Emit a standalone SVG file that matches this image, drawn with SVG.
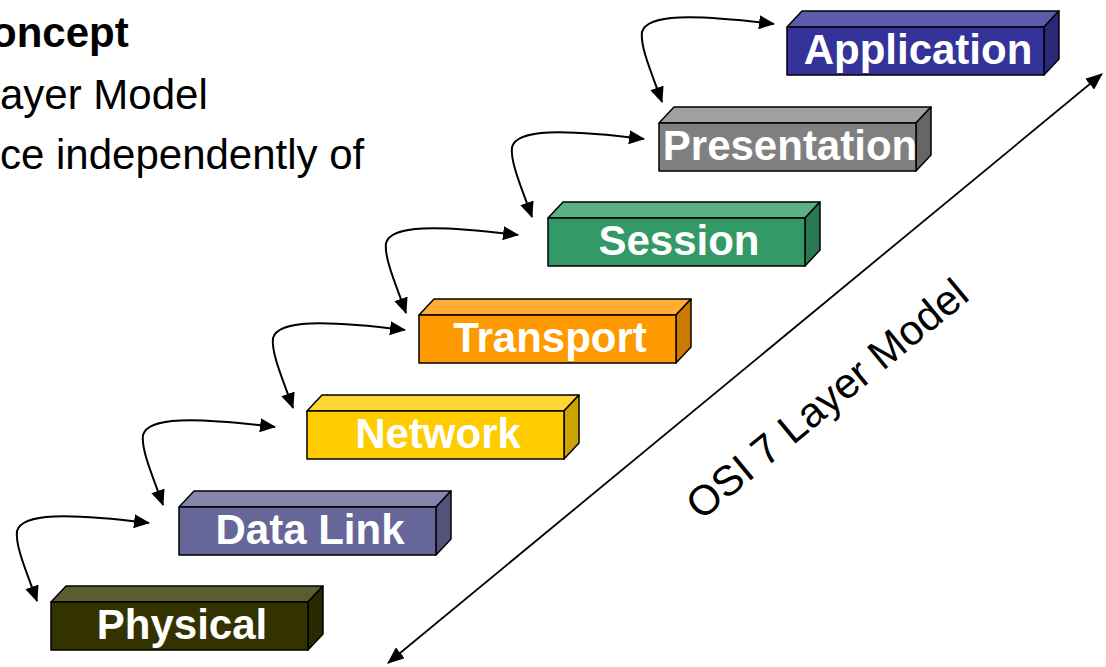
<svg xmlns="http://www.w3.org/2000/svg" width="1106" height="667" viewBox="0 0 1106 667">
  <style>
    .body { font-family: "Liberation Sans", Arial, sans-serif; font-size: 42px; fill: #000; }
    .bold { font-weight: bold; }
    .lbl { font-family: "Liberation Sans", Arial, sans-serif; font-size: 42px; font-weight: bold; fill: #fff; text-anchor: middle; }
    .edge { stroke: #000; stroke-linejoin: round; stroke-width: 1.5; }
    .conn { fill: none; stroke: #000; stroke-width: 2; marker-start: url(#ah); marker-end: url(#ah); }
    .axis { fill: none; stroke: #000; stroke-width: 1.8; marker-start: url(#ah2); marker-end: url(#ah2); }
    .axisText { font-family: "Liberation Sans", Arial, sans-serif; font-size: 42px; fill: #000; text-anchor: middle; }
  </style>
  <defs>
    <marker id="ah" viewBox="0 0 16 14" markerWidth="16" markerHeight="14" refX="15" refY="7" orient="auto-start-reverse" markerUnits="userSpaceOnUse">
      <path d="M0,0 L16,7 L0,14 z" fill="#000"/>
    </marker>
    <marker id="ah2" viewBox="0 0 17 14" markerWidth="17" markerHeight="14" refX="16" refY="7" orient="auto-start-reverse" markerUnits="userSpaceOnUse">
      <path d="M0,0 L17,7 L0,14 z" fill="#000"/>
    </marker>
    <path id="curve" d="M0,0 C-10,-28 -22,-55 -20,-70 C-15,-88 30,-88 112,-78"/>
  </defs>

  <rect width="1106" height="667" fill="#fff"/>

  <g id="intro">
    <text class="body bold" x="-9" y="47">oncept</text>
    <text class="body" x="0" y="109">ayer Model</text>
    <text class="body" x="0" y="169">ce independently of</text>
  </g>

  <g id="connectors">
    <use href="#curve" class="conn" transform="translate(662,102)"/>
    <use href="#curve" class="conn" transform="translate(532,217)"/>
    <use href="#curve" class="conn" transform="translate(406,313)"/>
    <use href="#curve" class="conn" transform="translate(293,408)"/>
    <use href="#curve" class="conn" transform="translate(163,505)"/>
    <use href="#curve" class="conn" transform="translate(37,601)"/>
    <line class="axis" x1="388" y1="663" x2="1102" y2="74"/>
  </g>

  <g id="axis-label">
    <text class="axisText" transform="translate(836,410) rotate(-39.5)">OSI 7 Layer Model</text>
  </g>

  <g id="application">
    <polygon class="edge" points="787,27 802,11 1059,11 1044,27" fill="#5c5cad"/>
    <polygon class="edge" points="1044,27 1059,11 1059,59 1044,75" fill="#29297a"/>
    <rect class="edge" x="787" y="27" width="257" height="48" fill="#333399"/>
    <text class="lbl" x="918" y="64">Application</text>
  </g>

  <g id="presentation">
    <polygon class="edge" points="659,123 674,107 931,107 916,123" fill="#a0a0a0"/>
    <polygon class="edge" points="916,123 931,107 931,155 916,171" fill="#666666"/>
    <rect class="edge" x="659" y="123" width="257" height="48" fill="#808080"/>
    <text class="lbl" x="790" y="160">Presentation</text>
  </g>

  <g id="session">
    <polygon class="edge" points="548,218 563,202 820,202 805,218" fill="#5cb085"/>
    <polygon class="edge" points="805,218 820,202 820,250 805,266" fill="#297a52"/>
    <rect class="edge" x="548" y="218" width="257" height="48" fill="#339966"/>
    <text class="lbl" x="679" y="255">Session</text>
  </g>

  <g id="transport">
    <polygon class="edge" points="419,315 434,299 691,299 676,315" fill="#ffad33"/>
    <polygon class="edge" points="676,315 691,299 691,347 676,363" fill="#cc7a00"/>
    <rect class="edge" x="419" y="315" width="257" height="48" fill="#ff9900"/>
    <text class="lbl" x="550" y="352">Transport</text>
  </g>

  <g id="network">
    <polygon class="edge" points="307,411 322,395 579,395 564,411" fill="#ffd633"/>
    <polygon class="edge" points="564,411 579,395 579,443 564,459" fill="#cca300"/>
    <rect class="edge" x="307" y="411" width="257" height="48" fill="#ffcc00"/>
    <text class="lbl" x="438" y="448">Network</text>
  </g>

  <g id="datalink">
    <polygon class="edge" points="179,507 194,491 451,491 436,507" fill="#8585ad"/>
    <polygon class="edge" points="436,507 451,491 451,539 436,555" fill="#52527a"/>
    <rect class="edge" x="179" y="507" width="257" height="48" fill="#666699"/>
    <text class="lbl" x="310" y="544">Data Link</text>
  </g>

  <g id="physical">
    <polygon class="edge" points="51,602 66,586 323,586 308,602" fill="#5c5c33"/>
    <polygon class="edge" points="308,602 323,586 323,634 308,650" fill="#292900"/>
    <rect class="edge" x="51" y="602" width="257" height="48" fill="#333300"/>
    <text class="lbl" x="182" y="639">Physical</text>
  </g>
</svg>
